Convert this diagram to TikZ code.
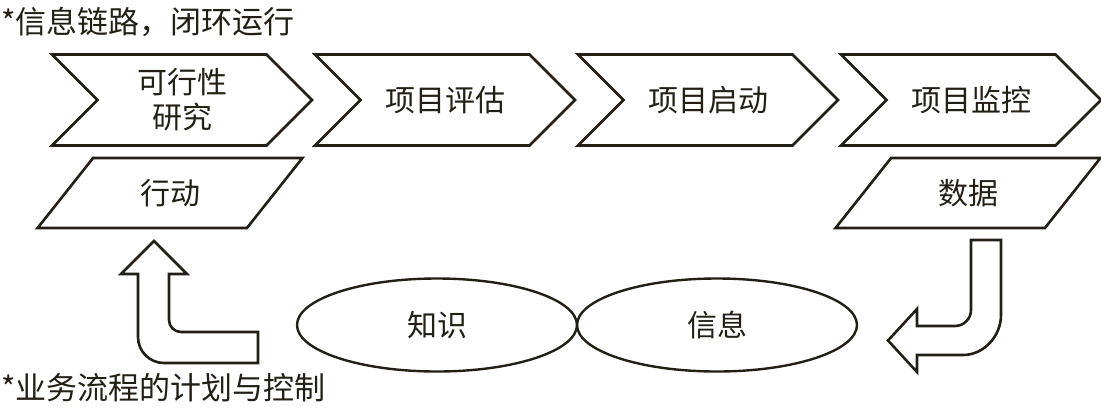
\documentclass[tikz,border=0pt]{standalone}
\usepackage{fontspec}
\usetikzlibrary{shapes.symbols,shapes.geometric}
\newfontfamily\cjk{Noto Sans CJK SC}
\definecolor{loopInk}{HTML}{231F14}
\definecolor{loopPaper}{HTML}{FFFFFF}
\tikzset{
    chevbox/.style={shape=signal, signal from=west, signal to=east, signal pointer angle=90,
        draw=loopInk, line width=2.6pt, fill=loopPaper, minimum width=260pt, minimum height=91pt,
        inner sep=0pt, align=center, text=loopInk, font=\cjk\fontsize{30}{35}\selectfont},
    slantbox/.style={trapezium, trapezium left angle=52, trapezium right angle=128, trapezium stretches,
        draw=loopInk, line width=2.6pt, minimum width=265pt, minimum height=70pt,
        inner sep=0pt, text=loopInk, font=\cjk\fontsize{30}{35}\selectfont},
    ovalbox/.style={ellipse, draw=loopInk, line width=2.4pt, minimum width=280pt, minimum height=93pt,
        inner sep=0pt, text=loopInk, font=\cjk\fontsize{30}{35}\selectfont},
    fatarrow/.style={draw=loopInk, line width=2.6pt, line join=miter, fill=loopPaper},
    notetext/.style={anchor=west, inner sep=0pt, text=loopInk, font=\cjk\fontsize{31}{36}\selectfont}
}

\begin{document}
\begin{tikzpicture}[x=1pt, y=-1pt]
    \useasboundingbox (0,0) rectangle (1101,408);
    \node[notetext] (loop) at (1,22) {*信息链路，闭环运行};
    \node[chevbox] (study) at (182,100) {可行性\\研究};
    \node[chevbox] (assess) at (445,100) {项目评估};
    \node[chevbox] (launch) at (708,100) {项目启动};
    \node[chevbox] (monitor) at (971,100) {项目监控};
    \node[slantbox] (action) at (170,193) {行动};
    \node[slantbox] (data) at (968,193) {数据};
    \node[ovalbox] (knowledge) at (437,325) {知识};
    \node[ovalbox] (info) at (717,325) {信息};
    \node[notetext] (plan) at (1,388) {*业务流程的计划与控制};
    \draw[fatarrow] (154,241) -- (187,274) -- (169,274) -- (169,320)
        .. controls (169,326.6) and (174.4,332) .. (181,332) -- (258,332) -- (258,363) -- (164,363)
        .. controls (149.6,363) and (138,351.4) .. (138,337) -- (138,274) -- (121,274) -- cycle;
    \draw[fatarrow] (971,240) -- (1001,240) -- (1001,315)
        .. controls (1001,336) and (984,355) .. (963,355) -- (917,355) -- (917,372) -- (888,340.5)
        -- (917,309) -- (917,326) -- (955,326) .. controls (963.8,326) and (971,318.8) .. (971,310) -- cycle;
\end{tikzpicture}
\end{document}
